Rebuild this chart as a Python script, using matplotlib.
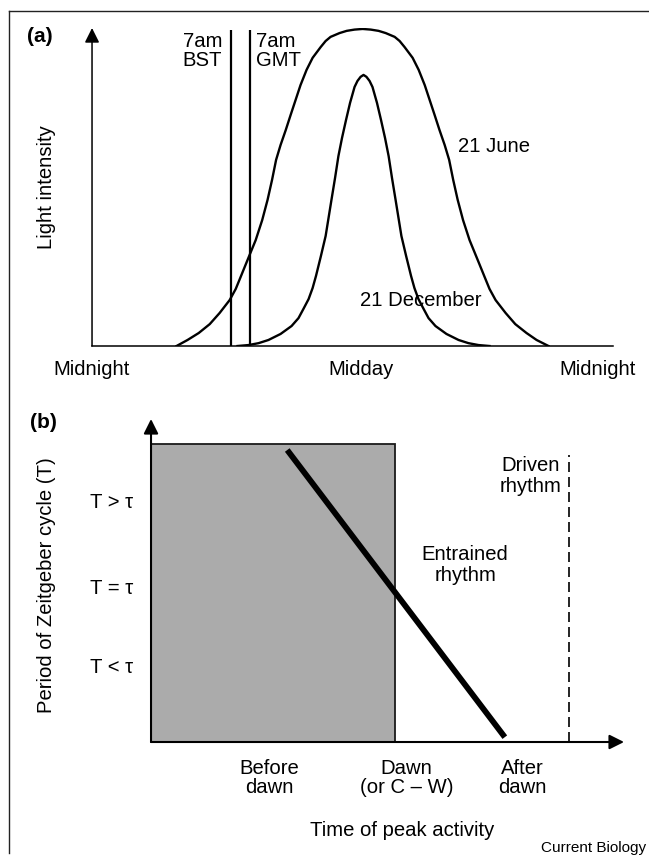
import matplotlib.pyplot as plt
from matplotlib.lines import Line2D
from matplotlib.patches import Rectangle

plt.rcParams["font.family"] = ["Liberation Sans", "DejaVu Sans"]

# (a) light intensity over the day (hours since midnight, relative intensity)
june_hours = [3.77, 4.26, 4.76, 5.25, 5.69, 6.14, 6.41, 6.63, 6.90, 7.30,
              7.59, 7.83, 8.03, 8.21, 8.41, 8.64, 8.86, 9.08, 9.30, 9.57,
              9.84, 10.20, 10.42, 10.64, 11.04, 11.36, 11.71, 12.07,
              12.43, 12.78, 13.10, 13.50, 13.72, 13.94, 14.30, 14.57, 14.84,
              15.06, 15.28, 15.50, 15.73, 15.93, 16.11, 16.31, 16.55, 16.84,
              17.24, 17.51, 17.73, 18.00, 18.45, 18.88, 19.38, 19.83, 20.36]
june_light = [0, 1.9, 4.1, 6.9, 10.4, 14.5, 18.0, 21.8, 26.5, 33.4,
              39.7, 46.1, 52.4, 58.7, 63.4, 68.1, 72.9, 77.6, 82.3, 87.1,
              90.9, 94.3, 96.2, 97.5, 98.7, 99.4, 99.8, 100,
              99.8, 99.4, 98.7, 97.5, 96.2, 94.3, 90.9, 87.1, 82.3,
              77.6, 72.9, 68.1, 63.4, 58.7, 52.4, 46.1, 39.7, 33.4,
              26.5, 21.8, 18.0, 14.5, 10.4, 6.9, 4.1, 1.9, 0]
dec_hours = [6.49, 6.98, 7.43, 7.87, 8.41, 8.90, 9.21, 9.43, 9.66, 9.84,
             9.99, 10.21, 10.42, 10.55, 10.68, 10.84, 10.99, 11.15, 11.33,
             11.51, 11.71, 11.84, 11.98, 12.11,
             12.24, 12.38, 12.51, 12.71, 12.89, 13.07, 13.23, 13.38, 13.54,
             13.67, 13.80, 14.01, 14.23, 14.38, 14.56, 14.79, 15.01, 15.32,
             15.81, 16.35, 16.79, 17.24, 17.73]
dec_light = [0, 0.3, 0.9, 1.9, 3.8, 6.3, 8.8, 11.7, 14.8, 18.3,
             22.1, 28.4, 34.7, 40.4, 46.1, 53.0, 59.9, 65.6, 71.3,
             76.7, 81.7, 83.6, 84.9, 85.5,
             84.9, 83.6, 81.7, 76.7, 71.3, 65.6, 59.9, 53.0, 46.1,
             40.4, 34.7, 28.4, 22.1, 18.3, 14.8, 11.7, 8.8, 6.3,
             3.8, 1.9, 0.9, 0.3, 0]
clock_lines = [6.2, 7.05]
clock_labels = ["7am\nBST", "7am\nGMT"]
day_ticks = [0, 12, 22.57]
day_labels = ["Midnight", "Midday", "Midnight"]

# (b) period of zeitgeber cycle vs time of peak activity
night_end = 5.16
night_top = 9.23
entrained_x = [2.88, 7.48]
entrained_y = [9.04, 0.15]
driven_x = 8.84
driven_top = 8.89
activity_ticks = [2.5, 5.4, 7.85]
activity_labels = ["Before\ndawn", "Dawn\n(or C \u2013 W)", "After\ndawn"]
period_ticks = [2.38, 4.80, 7.49]
period_labels = ["T < \u03c4", "T = \u03c4", "T > \u03c4"]

FS = 14.6

fig = plt.figure(figsize=(6.49, 8.59), dpi=100)

# frame lines of the printed figure
fig.add_artist(Line2D([0.0139, 1.0], [0.987, 0.987], color="#222222", lw=1.0))
fig.add_artist(Line2D([0.0139, 0.0139], [0.987, 0.007], color="#222222", lw=1.0))

# ---- panel (a)
ax = fig.add_axes([0.1418, 0.5972, 0.8028, 0.3702])
ax.plot(june_hours, june_light, color="black", lw=1.7, solid_joinstyle="round")
ax.plot(dec_hours, dec_light, color="black", lw=1.7, solid_joinstyle="round")
ax.vlines(clock_lines, 0, 99.7, color="black", lw=1.6)
ax.text(5.80, 98.9, clock_labels[0], ha="right", va="top", fontsize=FS,
        linespacing=1.0, multialignment="left")
ax.text(7.31, 98.9, clock_labels[1], ha="left", va="top", fontsize=FS,
        linespacing=1.0)
ax.text(16.32, 62.8, "21 June", ha="left", va="center", fontsize=FS)
ax.text(11.95, 14.5, "21 December", ha="left", va="center", fontsize=FS)

ax.set_xlim(0, 23.24)
ax.set_ylim(0, 100.3)
for side in ["top", "right", "left"]:
    ax.spines[side].set_visible(False)
ax.spines["bottom"].set_linewidth(1.1)
ax.annotate("", xy=(0, 1), xytext=(0, 0), xycoords="axes fraction",
            arrowprops=dict(arrowstyle="-|>", lw=1.1, color="black",
                            mutation_scale=22, shrinkA=0, shrinkB=0))
ax.set_xticks(day_ticks, day_labels, fontsize=FS)
ax.set_yticks([])
ax.tick_params(axis="x", length=0, pad=10)
ax.set_ylabel("Light intensity", fontsize=FS)
ax.yaxis.set_label_coords(-0.069, 0.5)
fig.text(0.042, 0.958, "(a)", fontsize=15, fontweight="bold",
         ha="left", va="center")

# ---- panel (b)
bx = fig.add_axes([0.2327, 0.1362, 0.7288, 0.3760])
bx.add_patch(Rectangle((0, 0), night_end, night_top, facecolor="#ababab",
                       edgecolor="#1a1a1a", lw=1.3))
bx.plot(entrained_x, entrained_y, color="black", lw=4.2, solid_capstyle="butt")
bx.plot([driven_x, driven_x], [0, driven_top], color="black", lw=1.2,
        dashes=(6, 3))
bx.text(8.67, 8.24, "Driven\nrhythm", ha="right", va="center", fontsize=FS,
        linespacing=1.1, multialignment="center")
bx.text(6.64, 5.48, "Entrained\nrhythm", ha="center", va="center", fontsize=FS,
        linespacing=1.1)

bx.set_xlim(0, 10)
bx.set_ylim(0, 10)
for side in bx.spines:
    bx.spines[side].set_visible(False)
arrow = dict(arrowstyle="-|>", lw=1.5, color="black", mutation_scale=22,
             shrinkA=0, shrinkB=0)
bx.annotate("", xy=(0, 1), xytext=(0, 0), xycoords="axes fraction",
            arrowprops=arrow)
bx.annotate("", xy=(1, 0), xytext=(0, 0), xycoords="axes fraction",
            arrowprops=arrow)
bx.set_xticks(activity_ticks, activity_labels, fontsize=FS, linespacing=1.05)
bx.set_yticks(period_ticks, period_labels, fontsize=FS)
bx.tick_params(axis="x", length=0, pad=12)
bx.tick_params(axis="y", length=0, pad=13)
bx.set_ylabel("Period of Zeitgeber cycle (T)", fontsize=FS)
bx.yaxis.set_label_coords(-0.2, 0.486)
bx.set_xlabel("Time of peak activity", fontsize=FS, va="top")
bx.xaxis.set_label_coords(0.531, -0.245)
fig.text(0.046, 0.508, "(b)", fontsize=15, fontweight="bold",
         ha="left", va="center")

fig.text(0.995, 0.0128, "Current Biology", fontsize=11, ha="right", va="center")

fig.savefig("out.png", dpi=100)
